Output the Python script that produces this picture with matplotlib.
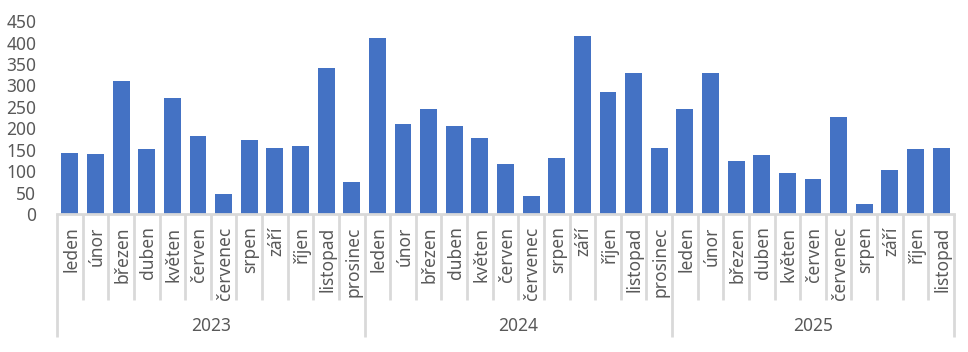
import numpy as np
import matplotlib.pyplot as plt
import matplotlib.transforms as mtransforms

plt.rcParams['font.family'] = ['Noto Sans', 'DejaVu Sans']

# monthly values
months = ['leden', 'únor', 'březen', 'duben', 'květen', 'červen',
          'červenec', 'srpen', 'září', 'říjen', 'listopad', 'prosinec']
years = ['2023', '2024', '2025']
vals_2023 = [142, 140, 310, 151, 270, 182, 47, 172, 154, 158, 340, 75]
vals_2024 = [410, 210, 245, 205, 177, 117, 42, 130, 415, 284, 329, 154]
vals_2025 = [245, 329, 124, 138, 96, 82, 226, 23, 103, 152, 154]

series = [vals_2023, vals_2024, vals_2025]
labels = []
values = []
for yvals in series:
    labels += months[:len(yvals)]
    values += yvals
n = len(values)
x = np.arange(n)

grey = '#595959'
line_c = '#d9d9d9'
fs = 12.5

fig = plt.figure(figsize=(9.68, 3.52), dpi=100)
ax = fig.add_axes([0.0589, 0.392, 0.9266, 0.548])
ax.bar(x, values, width=0.66, color='#4472c4', zorder=2)
ax.set_xlim(-0.5, n - 0.5)
ax.set_ylim(0, 450)
ax.set_yticks(np.arange(0, 451, 50))
ax.tick_params(axis='y', length=0, labelsize=fs, colors=grey, pad=15)
ax.set_xticks([])
for s in ['top', 'right', 'left']:
    ax.spines[s].set_visible(False)
ax.spines['bottom'].set_color(line_c)
ax.spines['bottom'].set_linewidth(2)

trans = mtransforms.blended_transform_factory(ax.transData, ax.transAxes)

# month labels
for i, lab in enumerate(labels):
    ax.text(i + 0.05, -0.065, lab, transform=trans, rotation=90,
            ha='center', va='top', fontsize=fs, color=grey)

# separators: short between months, long between years
bounds = np.cumsum([0] + [len(s) for s in series]) - 0.5
for b in np.arange(-0.5, n, 1.0):
    if b in bounds:
        y0 = -0.637
    else:
        y0 = -0.446
    ax.plot([b, b], [0, y0], transform=trans, color=line_c, lw=2,
            clip_on=False, solid_capstyle='butt')

# year labels
for k, yr in enumerate(years):
    mid = (bounds[k] + bounds[k + 1]) / 2
    ax.text(mid, -0.58, yr, transform=trans, ha='center', va='center',
            fontsize=fs, color=grey)

fig.savefig('out.png', dpi=100)
